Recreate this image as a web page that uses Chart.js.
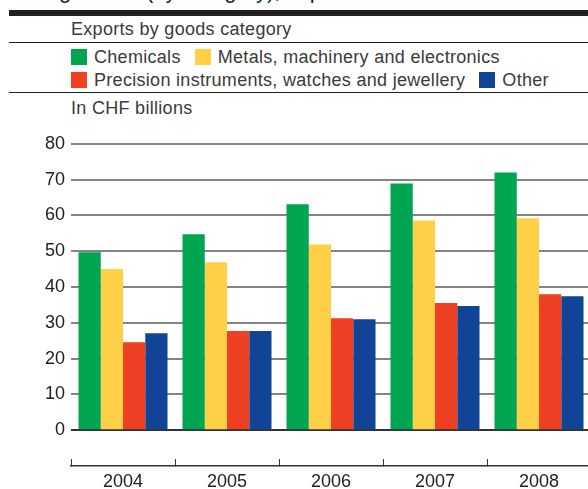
<!DOCTYPE html>
<html>
<head>
<meta charset="utf-8">
<script src="https://cdn.jsdelivr.net/npm/chart.js@4.4.1/dist/chart.umd.min.js"></script>
<style>
    body {
        margin: 0;
        width: 588px;
        height: 489px;
        overflow: hidden;
        position: relative;
        background: #fff;
        font-family: "Liberation Sans", Arial, sans-serif;
        color: #3a3a3a;
    }
    .title {
        position: absolute;
        left: 9px;
        top: -20px;
        font-size: 22px;
        line-height: 22px;
        white-space: nowrap;
        color: #231f20;
    }
    .rule {
        position: absolute;
        left: 9px;
        width: 579px;
        background: #231f20;
    }
    .text {
        position: absolute;
        left: 71px;
        font-size: 18px;
        line-height: 18px;
        letter-spacing: 0.3px;
        white-space: nowrap;
    }
    .legend-row {
        position: absolute;
        left: 71px;
        display: flex;
        align-items: center;
        font-size: 18px;
        line-height: 18px;
        letter-spacing: 0.3px;
        white-space: nowrap;
    }
    .legend-item {
        display: flex;
        align-items: center;
        margin-right: 14px;
    }
    .swatch {
        width: 16px;
        height: 16px;
        margin-right: 7px;
    }
    #chartBox {
        position: absolute;
        left: 0;
        top: 127px;
    }
</style>
</head>
<body>
<div class="title">Foreign trade (by category), exports</div>
<div class="rule" style="top:10px;height:6px"></div>
<div class="text" style="top:20px">Exports by goods category</div>
<div class="rule" style="top:42px;height:1px"></div>
<div class="legend-row" id="legendRow1" style="top:48px"></div>
<div class="legend-row" id="legendRow2" style="top:71px"></div>
<div class="rule" style="top:92px;height:1px"></div>
<div class="text" style="top:99px">In CHF billions</div>
<canvas id="chartBox" width="600" height="362"></canvas>

<script>
// Exports in CHF billions per year
const years = ["2004", "2005", "2006", "2007", "2008"];
const chemicals = [49.7, 54.7, 63.1, 68.9, 72.0];
const metals = [45.0, 46.9, 51.9, 58.6, 59.2];
const precision = [24.6, 27.7, 31.3, 35.5, 38.0];
const other = [27.1, 27.7, 31.0, 34.7, 37.4];

const seriesNames = [
    "Chemicals",
    "Metals, machinery and electronics",
    "Precision instruments, watches and jewellery",
    "Other"
];
const seriesValues = [chemicals, metals, precision, other];
const seriesColors = ["#00a551", "#ffd046", "#ef4023", "#0f4496"];

// legend is laid out in two rows above the chart
function addLegendItem(rowId, i) {
    const item = document.createElement("div");
    item.className = "legend-item";
    const sw = document.createElement("span");
    sw.className = "swatch";
    sw.style.background = seriesColors[i];
    const label = document.createElement("span");
    label.textContent = seriesNames[i];
    item.appendChild(sw);
    item.appendChild(label);
    document.getElementById(rowId).appendChild(item);
}
addLegendItem("legendRow1", 0);
addLegendItem("legendRow1", 1);
addLegendItem("legendRow2", 2);
addLegendItem("legendRow2", 3);

Chart.defaults.font.family = '"Liberation Sans", Arial, sans-serif';
Chart.defaults.font.size = 18;
Chart.defaults.color = "#222";

const ctx = document.getElementById("chartBox").getContext("2d");

new Chart(ctx, {
    type: "bar",
    data: {
        labels: years,
        datasets: seriesNames.map((name, i) => ({
            label: name,
            data: seriesValues[i],
            backgroundColor: seriesColors[i],
            borderWidth: 0,
            barPercentage: 1.0,
            categoryPercentage: 0.856
        }))
    },
    options: {
        responsive: false,
        animation: false,
        layout: { padding: { top: 10, right: 9, bottom: 0, left: 0 } },
        plugins: {
            legend: { display: false },
            tooltip: { enabled: false }
        },
        scales: {
            x: {
                afterFit: (scale) => { scale.height = 23; },
                grid: {
                    offset: true,
                    drawOnChartArea: false,
                    drawTicks: true,
                    tickLength: -7, // small marks pointing up from the axis line
                    color: "#333",
                    lineWidth: 1
                },
                border: { display: true, color: "#333", width: 1.5 },
                ticks: { padding: 12, color: "#222" }
            },
            y: {
                min: -10, // leaves a gap between the zero line and the year axis
                max: 80,
                afterFit: (scale) => { scale.width = 71; },
                border: { display: false },
                grid: {
                    drawTicks: false,
                    lineWidth: 2,
                    color: (c) => {
                        if (c.tick.value === 0) return "#333";
                        if (c.tick.value < 0) return "rgba(0,0,0,0)";
                        return "#858585";
                    }
                },
                ticks: {
                    stepSize: 10,
                    padding: 6,
                    color: "#222",
                    callback: (v) => (v < 0 ? "" : v)
                }
            }
        }
    }
});
</script>
</body>
</html>
